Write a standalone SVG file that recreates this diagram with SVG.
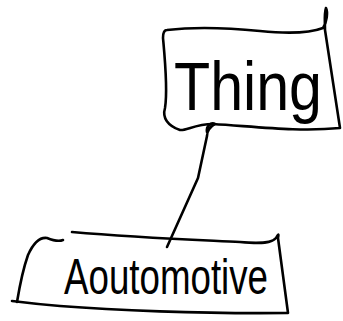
<svg xmlns="http://www.w3.org/2000/svg" width="343" height="321" viewBox="0 0 343 321">
<style>
.ink{fill:none;stroke:#000;stroke-width:2.6;stroke-linecap:round;stroke-linejoin:round}
.lbl{font-family:"Liberation Sans","DejaVu Sans",sans-serif;fill:#000}
</style>
<rect width="343" height="321" fill="#fff"/>
<g id="connectors">
<path class="ink" d="M207,132 C206,126 211,122 215,124 C210,127 207,131 207,136 L198,178 L167,247"/>
</g>
<g id="thing">
<path class="ink" d="M167,30 C200,26 230,28 260,31 C290,34 310,33 323,28 C327,22 328,12 326,8 C324,14 325,22 325,30 L340,128 C300,132 260,127 213,124 C195,124 186,131 180,130 C168,126 162,118 165,108 C168,90 165,60 163,38 C163,32 165,30 167,30 Z"/>
<text class="lbl" x="174" y="110" font-size="68" textLength="148" lengthAdjust="spacingAndGlyphs">Thing</text>
</g>
<g id="automotive">
<path class="ink" d="M72,232 C140,238 200,240 240,242 C262,244 272,243 276,238 C278,234 279,233 278,238 L288,313 C200,314 110,310 60,306 C35,304 20,302 12,301"/>
<path class="ink" d="M63,240 C58,242 52,240 47,238 C40,237 33,244 28,255 C22,272 19,290 17,302"/>
<text class="lbl" x="64" y="294" font-size="50" textLength="204" lengthAdjust="spacingAndGlyphs">Aoutomotive</text>
</g>
</svg>
